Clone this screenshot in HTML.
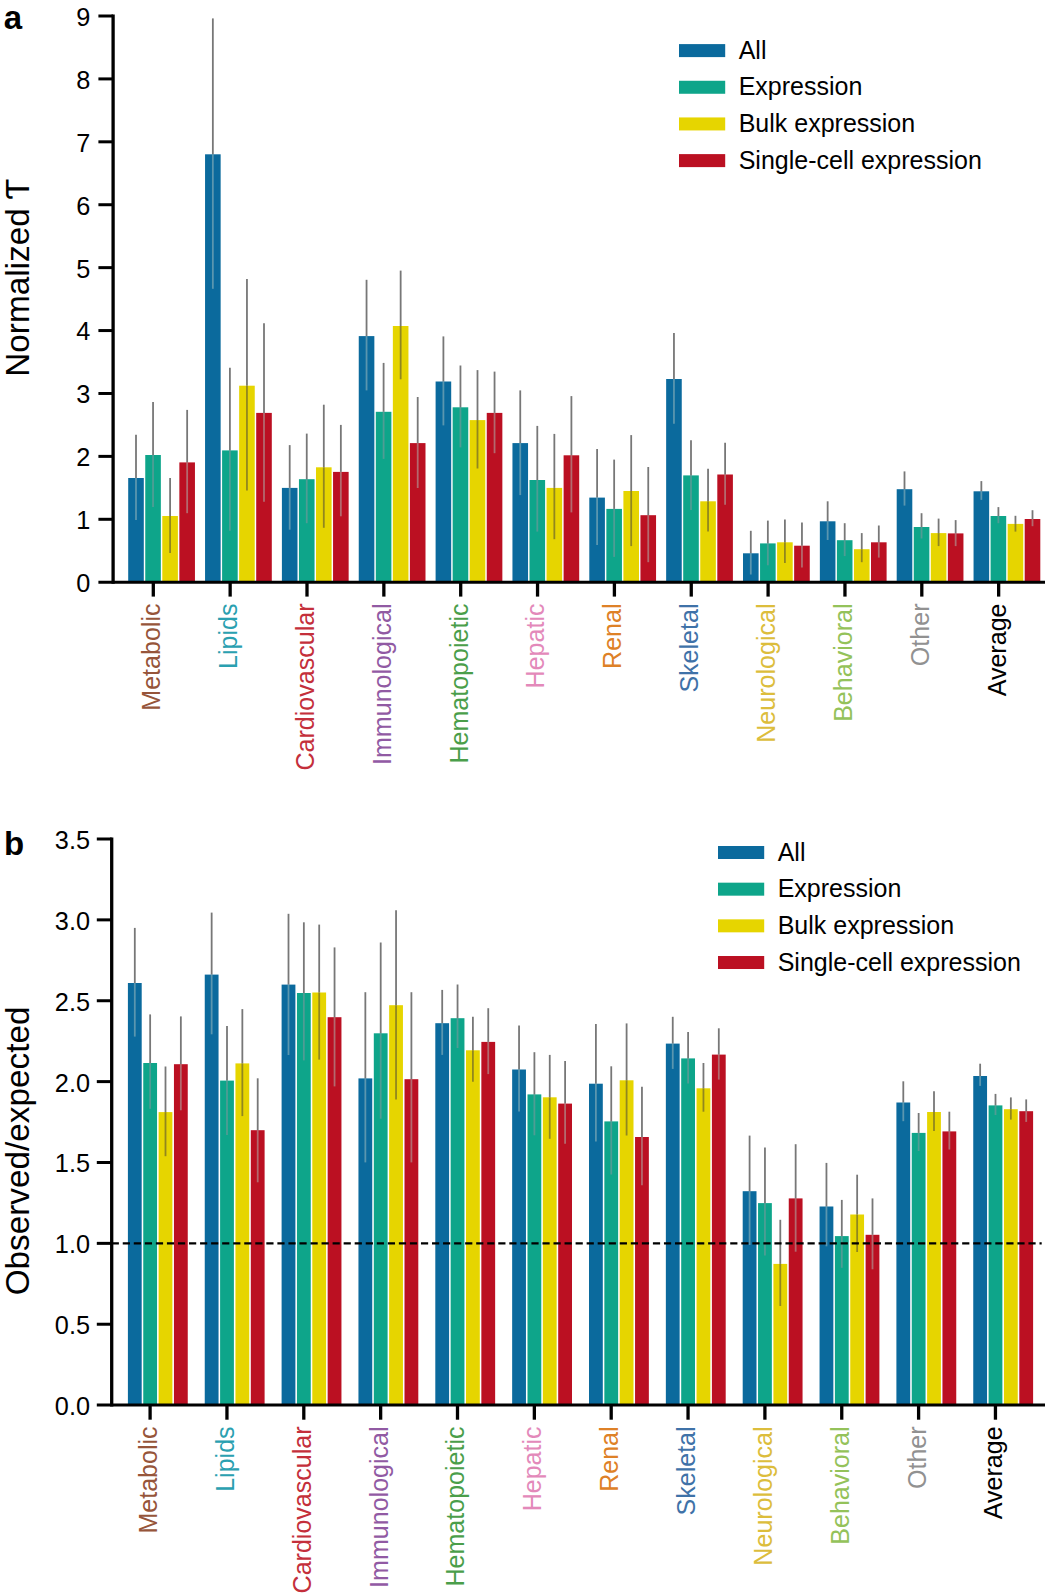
<!DOCTYPE html>
<html lang="en">
<head>
<meta charset="utf-8">
<title>Normalized enrichment by trait category</title>
<style>
html,body{margin:0;padding:0;background:#fff;}
body{width:1045px;height:1594px;overflow:hidden;}
svg{display:block;font-family:"Liberation Sans", Arial, Helvetica, sans-serif;}
</style>
</head>
<body>
<svg width="1045" height="1594" viewBox="0 0 1045 1594">
<rect x="0" y="0" width="1045" height="1594" fill="#fff"/>
<g class="panel-a">
<g class="bars">
<rect x="128.2" y="478" width="15.6" height="104.2" fill="#0b6a9d"/>
<rect x="145.25" y="455" width="15.6" height="127.2" fill="#0ea58a"/>
<rect x="162.3" y="516" width="15.6" height="66.2" fill="#e6d500"/>
<rect x="179.35" y="462.4" width="15.6" height="119.8" fill="#bb1022"/>
<rect x="205.05" y="154.3" width="15.6" height="427.9" fill="#0b6a9d"/>
<rect x="222.1" y="450.4" width="15.6" height="131.8" fill="#0ea58a"/>
<rect x="239.15" y="385.7" width="15.6" height="196.5" fill="#e6d500"/>
<rect x="256.2" y="412.9" width="15.6" height="169.3" fill="#bb1022"/>
<rect x="281.9" y="487.9" width="15.6" height="94.3" fill="#0b6a9d"/>
<rect x="298.95" y="479.2" width="15.6" height="103" fill="#0ea58a"/>
<rect x="316" y="467.3" width="15.6" height="114.9" fill="#e6d500"/>
<rect x="333.05" y="471.9" width="15.6" height="110.3" fill="#bb1022"/>
<rect x="358.75" y="336.1" width="15.6" height="246.1" fill="#0b6a9d"/>
<rect x="375.8" y="411.8" width="15.6" height="170.4" fill="#0ea58a"/>
<rect x="392.85" y="326" width="15.6" height="256.2" fill="#e6d500"/>
<rect x="409.9" y="443.1" width="15.6" height="139.1" fill="#bb1022"/>
<rect x="435.6" y="381.5" width="15.6" height="200.7" fill="#0b6a9d"/>
<rect x="452.65" y="407.3" width="15.6" height="174.9" fill="#0ea58a"/>
<rect x="469.7" y="420.1" width="15.6" height="162.1" fill="#e6d500"/>
<rect x="486.75" y="412.9" width="15.6" height="169.3" fill="#bb1022"/>
<rect x="512.45" y="443.1" width="15.6" height="139.1" fill="#0b6a9d"/>
<rect x="529.5" y="480" width="15.6" height="102.2" fill="#0ea58a"/>
<rect x="546.55" y="487.9" width="15.6" height="94.3" fill="#e6d500"/>
<rect x="563.6" y="455.3" width="15.6" height="126.9" fill="#bb1022"/>
<rect x="589.3" y="497.6" width="15.6" height="84.6" fill="#0b6a9d"/>
<rect x="606.35" y="508.9" width="15.6" height="73.3" fill="#0ea58a"/>
<rect x="623.4" y="491" width="15.6" height="91.2" fill="#e6d500"/>
<rect x="640.45" y="515.2" width="15.6" height="67" fill="#bb1022"/>
<rect x="666.15" y="379" width="15.6" height="203.2" fill="#0b6a9d"/>
<rect x="683.2" y="475.4" width="15.6" height="106.8" fill="#0ea58a"/>
<rect x="700.25" y="501.3" width="15.6" height="80.9" fill="#e6d500"/>
<rect x="717.3" y="474.5" width="15.6" height="107.7" fill="#bb1022"/>
<rect x="743" y="553.3" width="15.6" height="28.9" fill="#0b6a9d"/>
<rect x="760.05" y="543.4" width="15.6" height="38.8" fill="#0ea58a"/>
<rect x="777.1" y="542.3" width="15.6" height="39.9" fill="#e6d500"/>
<rect x="794.15" y="545.7" width="15.6" height="36.5" fill="#bb1022"/>
<rect x="819.85" y="521.3" width="15.6" height="60.9" fill="#0b6a9d"/>
<rect x="836.9" y="540.2" width="15.6" height="42" fill="#0ea58a"/>
<rect x="853.95" y="549.2" width="15.6" height="33" fill="#e6d500"/>
<rect x="871" y="542.3" width="15.6" height="39.9" fill="#bb1022"/>
<rect x="896.7" y="489.2" width="15.6" height="93" fill="#0b6a9d"/>
<rect x="913.75" y="527" width="15.6" height="55.2" fill="#0ea58a"/>
<rect x="930.8" y="533.1" width="15.6" height="49.1" fill="#e6d500"/>
<rect x="947.85" y="533.4" width="15.6" height="48.8" fill="#bb1022"/>
<rect x="973.55" y="491.3" width="15.6" height="90.9" fill="#0b6a9d"/>
<rect x="990.6" y="516" width="15.6" height="66.2" fill="#0ea58a"/>
<rect x="1007.65" y="523.9" width="15.6" height="58.3" fill="#e6d500"/>
<rect x="1024.7" y="519" width="15.6" height="63.2" fill="#bb1022"/>
</g>
<g class="errs" stroke-width="1.8" stroke-linecap="butt">
<line x1="136" y1="434.8" x2="136" y2="478" stroke="#777777"/>
<line x1="136" y1="478" x2="136" y2="520.1" stroke="#5a96af"/>
<line x1="153.05" y1="401.9" x2="153.05" y2="455" stroke="#777777"/>
<line x1="153.05" y1="455" x2="153.05" y2="507.1" stroke="#4f9d94"/>
<line x1="170.1" y1="478" x2="170.1" y2="516" stroke="#777777"/>
<line x1="170.1" y1="516" x2="170.1" y2="553" stroke="#91871e"/>
<line x1="187.15" y1="409.9" x2="187.15" y2="462.4" stroke="#777777"/>
<line x1="187.15" y1="462.4" x2="187.15" y2="513.2" stroke="#b4696e"/>
<line x1="212.85" y1="18.4" x2="212.85" y2="154.3" stroke="#777777"/>
<line x1="212.85" y1="154.3" x2="212.85" y2="288.8" stroke="#5a96af"/>
<line x1="229.9" y1="367.7" x2="229.9" y2="450.4" stroke="#777777"/>
<line x1="229.9" y1="450.4" x2="229.9" y2="530.8" stroke="#4f9d94"/>
<line x1="246.95" y1="278.9" x2="246.95" y2="385.7" stroke="#777777"/>
<line x1="246.95" y1="385.7" x2="246.95" y2="490.6" stroke="#91871e"/>
<line x1="264" y1="323.3" x2="264" y2="412.9" stroke="#777777"/>
<line x1="264" y1="412.9" x2="264" y2="501.7" stroke="#b4696e"/>
<line x1="289.7" y1="445.1" x2="289.7" y2="487.9" stroke="#777777"/>
<line x1="289.7" y1="487.9" x2="289.7" y2="529.7" stroke="#5a96af"/>
<line x1="306.75" y1="433.6" x2="306.75" y2="479.2" stroke="#777777"/>
<line x1="306.75" y1="479.2" x2="306.75" y2="523.2" stroke="#4f9d94"/>
<line x1="323.8" y1="404.7" x2="323.8" y2="467.3" stroke="#777777"/>
<line x1="323.8" y1="467.3" x2="323.8" y2="527.8" stroke="#91871e"/>
<line x1="340.85" y1="424.9" x2="340.85" y2="471.9" stroke="#777777"/>
<line x1="340.85" y1="471.9" x2="340.85" y2="516.3" stroke="#b4696e"/>
<line x1="366.55" y1="279.8" x2="366.55" y2="336.1" stroke="#777777"/>
<line x1="366.55" y1="336.1" x2="366.55" y2="390.4" stroke="#5a96af"/>
<line x1="383.6" y1="362.9" x2="383.6" y2="411.8" stroke="#777777"/>
<line x1="383.6" y1="411.8" x2="383.6" y2="458.9" stroke="#4f9d94"/>
<line x1="400.65" y1="270.6" x2="400.65" y2="326" stroke="#777777"/>
<line x1="400.65" y1="326" x2="400.65" y2="379.3" stroke="#91871e"/>
<line x1="417.7" y1="397" x2="417.7" y2="443.1" stroke="#777777"/>
<line x1="417.7" y1="443.1" x2="417.7" y2="488" stroke="#b4696e"/>
<line x1="443.4" y1="336.4" x2="443.4" y2="381.5" stroke="#777777"/>
<line x1="443.4" y1="381.5" x2="443.4" y2="425.4" stroke="#5a96af"/>
<line x1="460.45" y1="365.5" x2="460.45" y2="407.3" stroke="#777777"/>
<line x1="460.45" y1="407.3" x2="460.45" y2="447.4" stroke="#4f9d94"/>
<line x1="477.5" y1="370.1" x2="477.5" y2="420.1" stroke="#777777"/>
<line x1="477.5" y1="420.1" x2="477.5" y2="468.5" stroke="#91871e"/>
<line x1="494.55" y1="371.6" x2="494.55" y2="412.9" stroke="#777777"/>
<line x1="494.55" y1="412.9" x2="494.55" y2="453.2" stroke="#b4696e"/>
<line x1="520.25" y1="390.4" x2="520.25" y2="443.1" stroke="#777777"/>
<line x1="520.25" y1="443.1" x2="520.25" y2="495.1" stroke="#5a96af"/>
<line x1="537.3" y1="425.9" x2="537.3" y2="480" stroke="#777777"/>
<line x1="537.3" y1="480" x2="537.3" y2="531.6" stroke="#4f9d94"/>
<line x1="554.35" y1="433.9" x2="554.35" y2="487.9" stroke="#777777"/>
<line x1="554.35" y1="487.9" x2="554.35" y2="539.2" stroke="#91871e"/>
<line x1="571.4" y1="396.1" x2="571.4" y2="455.3" stroke="#777777"/>
<line x1="571.4" y1="455.3" x2="571.4" y2="512.4" stroke="#b4696e"/>
<line x1="597.1" y1="448.9" x2="597.1" y2="497.6" stroke="#777777"/>
<line x1="597.1" y1="497.6" x2="597.1" y2="545.1" stroke="#5a96af"/>
<line x1="614.15" y1="459.6" x2="614.15" y2="508.9" stroke="#777777"/>
<line x1="614.15" y1="508.9" x2="614.15" y2="556.9" stroke="#4f9d94"/>
<line x1="631.2" y1="435.1" x2="631.2" y2="491" stroke="#777777"/>
<line x1="631.2" y1="491" x2="631.2" y2="546.1" stroke="#91871e"/>
<line x1="648.25" y1="467" x2="648.25" y2="515.2" stroke="#777777"/>
<line x1="648.25" y1="515.2" x2="648.25" y2="562.2" stroke="#b4696e"/>
<line x1="673.95" y1="333.1" x2="673.95" y2="379" stroke="#777777"/>
<line x1="673.95" y1="379" x2="673.95" y2="423.7" stroke="#5a96af"/>
<line x1="691" y1="440.2" x2="691" y2="475.4" stroke="#777777"/>
<line x1="691" y1="475.4" x2="691" y2="510.1" stroke="#4f9d94"/>
<line x1="708.05" y1="468.8" x2="708.05" y2="501.3" stroke="#777777"/>
<line x1="708.05" y1="501.3" x2="708.05" y2="531.6" stroke="#91871e"/>
<line x1="725.1" y1="442.8" x2="725.1" y2="474.5" stroke="#777777"/>
<line x1="725.1" y1="474.5" x2="725.1" y2="504.8" stroke="#b4696e"/>
<line x1="750.8" y1="530.8" x2="750.8" y2="553.3" stroke="#777777"/>
<line x1="750.8" y1="553.3" x2="750.8" y2="574.5" stroke="#5a96af"/>
<line x1="767.85" y1="520.6" x2="767.85" y2="543.4" stroke="#777777"/>
<line x1="767.85" y1="543.4" x2="767.85" y2="565.3" stroke="#4f9d94"/>
<line x1="784.9" y1="519.6" x2="784.9" y2="542.3" stroke="#777777"/>
<line x1="784.9" y1="542.3" x2="784.9" y2="563" stroke="#91871e"/>
<line x1="801.95" y1="522.4" x2="801.95" y2="545.7" stroke="#777777"/>
<line x1="801.95" y1="545.7" x2="801.95" y2="567.6" stroke="#b4696e"/>
<line x1="827.65" y1="501.3" x2="827.65" y2="521.3" stroke="#777777"/>
<line x1="827.65" y1="521.3" x2="827.65" y2="540" stroke="#5a96af"/>
<line x1="844.7" y1="523.2" x2="844.7" y2="540.2" stroke="#777777"/>
<line x1="844.7" y1="540.2" x2="844.7" y2="556.1" stroke="#4f9d94"/>
<line x1="861.75" y1="533.1" x2="861.75" y2="549.2" stroke="#777777"/>
<line x1="861.75" y1="549.2" x2="861.75" y2="562.2" stroke="#91871e"/>
<line x1="878.8" y1="525.5" x2="878.8" y2="542.3" stroke="#777777"/>
<line x1="878.8" y1="542.3" x2="878.8" y2="557.6" stroke="#b4696e"/>
<line x1="904.5" y1="471.4" x2="904.5" y2="489.2" stroke="#777777"/>
<line x1="904.5" y1="489.2" x2="904.5" y2="505.6" stroke="#5a96af"/>
<line x1="921.55" y1="513.2" x2="921.55" y2="527" stroke="#777777"/>
<line x1="921.55" y1="527" x2="921.55" y2="538.5" stroke="#4f9d94"/>
<line x1="938.6" y1="518.6" x2="938.6" y2="533.1" stroke="#777777"/>
<line x1="938.6" y1="533.1" x2="938.6" y2="546.1" stroke="#91871e"/>
<line x1="955.65" y1="520.1" x2="955.65" y2="533.4" stroke="#777777"/>
<line x1="955.65" y1="533.4" x2="955.65" y2="546.1" stroke="#b4696e"/>
<line x1="981.35" y1="481.1" x2="981.35" y2="491.3" stroke="#777777"/>
<line x1="981.35" y1="491.3" x2="981.35" y2="499.9" stroke="#5a96af"/>
<line x1="998.4" y1="507.1" x2="998.4" y2="516" stroke="#777777"/>
<line x1="998.4" y1="516" x2="998.4" y2="523.2" stroke="#4f9d94"/>
<line x1="1015.45" y1="515.8" x2="1015.45" y2="523.9" stroke="#777777"/>
<line x1="1015.45" y1="523.9" x2="1015.45" y2="531.6" stroke="#91871e"/>
<line x1="1032.5" y1="510.2" x2="1032.5" y2="519" stroke="#777777"/>
<line x1="1032.5" y1="519" x2="1032.5" y2="526.2" stroke="#b4696e"/>
</g>
<g class="axes" stroke="#000" fill="none">
<line x1="113.1" y1="14.5" x2="113.1" y2="583.7" stroke-width="3.3"/>
<line x1="98.4" y1="582.2" x2="1045" y2="582.2" stroke-width="3"/>
<line x1="98.4" y1="519.29" x2="113.1" y2="519.29" stroke-width="3"/>
<line x1="98.4" y1="456.38" x2="113.1" y2="456.38" stroke-width="3"/>
<line x1="98.4" y1="393.47" x2="113.1" y2="393.47" stroke-width="3"/>
<line x1="98.4" y1="330.56" x2="113.1" y2="330.56" stroke-width="3"/>
<line x1="98.4" y1="267.64" x2="113.1" y2="267.64" stroke-width="3"/>
<line x1="98.4" y1="204.73" x2="113.1" y2="204.73" stroke-width="3"/>
<line x1="98.4" y1="141.82" x2="113.1" y2="141.82" stroke-width="3"/>
<line x1="98.4" y1="78.91" x2="113.1" y2="78.91" stroke-width="3"/>
<line x1="98.4" y1="16" x2="113.1" y2="16" stroke-width="3"/>
<line x1="153.3" y1="582.2" x2="153.3" y2="596.6" stroke-width="3.3"/>
<line x1="230.15" y1="582.2" x2="230.15" y2="596.6" stroke-width="3.3"/>
<line x1="307" y1="582.2" x2="307" y2="596.6" stroke-width="3.3"/>
<line x1="383.85" y1="582.2" x2="383.85" y2="596.6" stroke-width="3.3"/>
<line x1="460.7" y1="582.2" x2="460.7" y2="596.6" stroke-width="3.3"/>
<line x1="537.55" y1="582.2" x2="537.55" y2="596.6" stroke-width="3.3"/>
<line x1="614.4" y1="582.2" x2="614.4" y2="596.6" stroke-width="3.3"/>
<line x1="691.25" y1="582.2" x2="691.25" y2="596.6" stroke-width="3.3"/>
<line x1="768.1" y1="582.2" x2="768.1" y2="596.6" stroke-width="3.3"/>
<line x1="844.95" y1="582.2" x2="844.95" y2="596.6" stroke-width="3.3"/>
<line x1="921.8" y1="582.2" x2="921.8" y2="596.6" stroke-width="3.3"/>
<line x1="998.65" y1="582.2" x2="998.65" y2="596.6" stroke-width="3.3"/>
</g>
<g class="yticks" font-size="25.3" text-anchor="end" fill="#000">
<text x="90.4" y="592.1">0</text>
<text x="90.4" y="529.19">1</text>
<text x="90.4" y="466.28">2</text>
<text x="90.4" y="403.37">3</text>
<text x="90.4" y="340.46">4</text>
<text x="90.4" y="277.54">5</text>
<text x="90.4" y="214.63">6</text>
<text x="90.4" y="151.72">7</text>
<text x="90.4" y="88.81">8</text>
<text x="90.4" y="25.9">9</text>
</g>
<g class="xticks" font-size="25.05" text-anchor="end">
<text transform="translate(160.2 603.5) rotate(-90)" fill="#96553a">Metabolic</text>
<text transform="translate(237.05 603.5) rotate(-90)" fill="#2aa0b0">Lipids</text>
<text transform="translate(313.9 603.5) rotate(-90)" fill="#c42f3b">Cardiovascular</text>
<text transform="translate(390.75 603.5) rotate(-90)" fill="#915aa3">Immunological</text>
<text transform="translate(467.6 603.5) rotate(-90)" fill="#4a9e4a">Hematopoietic</text>
<text transform="translate(544.45 603.5) rotate(-90)" fill="#e389ba">Hepatic</text>
<text transform="translate(621.3 603.5) rotate(-90)" fill="#de8127">Renal</text>
<text transform="translate(698.15 603.5) rotate(-90)" fill="#3f72a8">Skeletal</text>
<text transform="translate(775 603.5) rotate(-90)" fill="#dcbd3c">Neurological</text>
<text transform="translate(851.85 603.5) rotate(-90)" fill="#94c25a">Behavioral</text>
<text transform="translate(928.7 603.5) rotate(-90)" fill="#919191">Other</text>
<text transform="translate(1005.55 603.5) rotate(-90)" fill="#000000">Average</text>
</g>
<text class="ylabel" transform="translate(28.8 376.7) rotate(-90)" font-size="33.3" text-anchor="start" fill="#000">Normalized Ƭ</text>
<text class="plabel" x="3.7" y="28.6" font-size="33" font-weight="bold" fill="#000">a</text>
<g class="legend" font-size="25" fill="#000">
<rect x="679" y="44.1" width="46.2" height="13" fill="#0b6a9d"/>
<text x="738.7" y="58.8">All</text>
<rect x="679" y="80.77" width="46.2" height="13" fill="#0ea58a"/>
<text x="738.7" y="95.47">Expression</text>
<rect x="679" y="117.44" width="46.2" height="13" fill="#e6d500"/>
<text x="738.7" y="132.14">Bulk expression</text>
<rect x="679" y="154.11" width="46.2" height="13" fill="#bb1022"/>
<text x="738.7" y="168.81">Single-cell expression</text>
</g>
</g>
<g class="panel-b">
<g class="bars">
<rect x="127.9" y="983" width="13.8" height="422.1" fill="#0b6a9d"/>
<rect x="143.25" y="1063" width="13.8" height="342.1" fill="#0ea58a"/>
<rect x="158.6" y="1112.1" width="13.8" height="293" fill="#e6d500"/>
<rect x="173.95" y="1064.2" width="13.8" height="340.9" fill="#bb1022"/>
<rect x="204.75" y="974.6" width="13.8" height="430.5" fill="#0b6a9d"/>
<rect x="220.1" y="1080.6" width="13.8" height="324.5" fill="#0ea58a"/>
<rect x="235.45" y="1063.4" width="13.8" height="341.7" fill="#e6d500"/>
<rect x="250.8" y="1130.2" width="13.8" height="274.9" fill="#bb1022"/>
<rect x="281.6" y="984.6" width="13.8" height="420.5" fill="#0b6a9d"/>
<rect x="296.95" y="993" width="13.8" height="412.1" fill="#0ea58a"/>
<rect x="312.3" y="992.5" width="13.8" height="412.6" fill="#e6d500"/>
<rect x="327.65" y="1017.2" width="13.8" height="387.9" fill="#bb1022"/>
<rect x="358.45" y="1078.4" width="13.8" height="326.7" fill="#0b6a9d"/>
<rect x="373.8" y="1033.3" width="13.8" height="371.8" fill="#0ea58a"/>
<rect x="389.15" y="1005.2" width="13.8" height="399.9" fill="#e6d500"/>
<rect x="404.5" y="1079.2" width="13.8" height="325.9" fill="#bb1022"/>
<rect x="435.3" y="1023.2" width="13.8" height="381.9" fill="#0b6a9d"/>
<rect x="450.65" y="1018.2" width="13.8" height="386.9" fill="#0ea58a"/>
<rect x="466" y="1050.3" width="13.8" height="354.8" fill="#e6d500"/>
<rect x="481.35" y="1041.9" width="13.8" height="363.2" fill="#bb1022"/>
<rect x="512.15" y="1069.5" width="13.8" height="335.6" fill="#0b6a9d"/>
<rect x="527.5" y="1094.4" width="13.8" height="310.7" fill="#0ea58a"/>
<rect x="542.85" y="1097.3" width="13.8" height="307.8" fill="#e6d500"/>
<rect x="558.2" y="1103.6" width="13.8" height="301.5" fill="#bb1022"/>
<rect x="589" y="1083.7" width="13.8" height="321.4" fill="#0b6a9d"/>
<rect x="604.35" y="1121.4" width="13.8" height="283.7" fill="#0ea58a"/>
<rect x="619.7" y="1080.3" width="13.8" height="324.8" fill="#e6d500"/>
<rect x="635.05" y="1137" width="13.8" height="268.1" fill="#bb1022"/>
<rect x="665.85" y="1043.6" width="13.8" height="361.5" fill="#0b6a9d"/>
<rect x="681.2" y="1058.4" width="13.8" height="346.7" fill="#0ea58a"/>
<rect x="696.55" y="1088.3" width="13.8" height="316.8" fill="#e6d500"/>
<rect x="711.9" y="1054.6" width="13.8" height="350.5" fill="#bb1022"/>
<rect x="742.7" y="1191.2" width="13.8" height="213.9" fill="#0b6a9d"/>
<rect x="758.05" y="1203.1" width="13.8" height="202" fill="#0ea58a"/>
<rect x="773.4" y="1263.9" width="13.8" height="141.2" fill="#e6d500"/>
<rect x="788.75" y="1198.4" width="13.8" height="206.7" fill="#bb1022"/>
<rect x="819.55" y="1206.5" width="13.8" height="198.6" fill="#0b6a9d"/>
<rect x="834.9" y="1236.1" width="13.8" height="169" fill="#0ea58a"/>
<rect x="850.25" y="1214.5" width="13.8" height="190.6" fill="#e6d500"/>
<rect x="865.6" y="1234.8" width="13.8" height="170.3" fill="#bb1022"/>
<rect x="896.4" y="1102.5" width="13.8" height="302.6" fill="#0b6a9d"/>
<rect x="911.75" y="1132.9" width="13.8" height="272.2" fill="#0ea58a"/>
<rect x="927.1" y="1112" width="13.8" height="293.1" fill="#e6d500"/>
<rect x="942.45" y="1131.4" width="13.8" height="273.7" fill="#bb1022"/>
<rect x="973.25" y="1076" width="13.8" height="329.1" fill="#0b6a9d"/>
<rect x="988.6" y="1105.4" width="13.8" height="299.7" fill="#0ea58a"/>
<rect x="1003.95" y="1109.2" width="13.8" height="295.9" fill="#e6d500"/>
<rect x="1019.3" y="1111.2" width="13.8" height="293.9" fill="#bb1022"/>
</g>
<g class="errs" stroke-width="1.8" stroke-linecap="butt">
<line x1="134.8" y1="927.9" x2="134.8" y2="983" stroke="#777777"/>
<line x1="134.8" y1="983" x2="134.8" y2="1036.6" stroke="#5a96af"/>
<line x1="150.15" y1="1014.4" x2="150.15" y2="1063" stroke="#777777"/>
<line x1="150.15" y1="1063" x2="150.15" y2="1108.8" stroke="#4f9d94"/>
<line x1="165.5" y1="1066.5" x2="165.5" y2="1112.1" stroke="#777777"/>
<line x1="165.5" y1="1112.1" x2="165.5" y2="1156.2" stroke="#91871e"/>
<line x1="180.85" y1="1016.4" x2="180.85" y2="1064.2" stroke="#777777"/>
<line x1="180.85" y1="1064.2" x2="180.85" y2="1110.3" stroke="#b4696e"/>
<line x1="211.65" y1="912.6" x2="211.65" y2="974.6" stroke="#777777"/>
<line x1="211.65" y1="974.6" x2="211.65" y2="1034.3" stroke="#5a96af"/>
<line x1="227" y1="1025.9" x2="227" y2="1080.6" stroke="#777777"/>
<line x1="227" y1="1080.6" x2="227" y2="1135.1" stroke="#4f9d94"/>
<line x1="242.35" y1="1009.1" x2="242.35" y2="1063.4" stroke="#777777"/>
<line x1="242.35" y1="1063.4" x2="242.35" y2="1116.1" stroke="#91871e"/>
<line x1="257.7" y1="1078.3" x2="257.7" y2="1130.2" stroke="#777777"/>
<line x1="257.7" y1="1130.2" x2="257.7" y2="1182.3" stroke="#b4696e"/>
<line x1="288.5" y1="913.8" x2="288.5" y2="984.6" stroke="#777777"/>
<line x1="288.5" y1="984.6" x2="288.5" y2="1055" stroke="#5a96af"/>
<line x1="303.85" y1="922.3" x2="303.85" y2="993" stroke="#777777"/>
<line x1="303.85" y1="993" x2="303.85" y2="1060.4" stroke="#4f9d94"/>
<line x1="319.2" y1="924.6" x2="319.2" y2="992.5" stroke="#777777"/>
<line x1="319.2" y1="992.5" x2="319.2" y2="1059.6" stroke="#91871e"/>
<line x1="334.55" y1="947.4" x2="334.55" y2="1017.2" stroke="#777777"/>
<line x1="334.55" y1="1017.2" x2="334.55" y2="1086.4" stroke="#b4696e"/>
<line x1="365.35" y1="992.2" x2="365.35" y2="1078.4" stroke="#777777"/>
<line x1="365.35" y1="1078.4" x2="365.35" y2="1162.4" stroke="#5a96af"/>
<line x1="380.7" y1="942.5" x2="380.7" y2="1033.3" stroke="#777777"/>
<line x1="380.7" y1="1033.3" x2="380.7" y2="1118.7" stroke="#4f9d94"/>
<line x1="396.05" y1="910.3" x2="396.05" y2="1005.2" stroke="#777777"/>
<line x1="396.05" y1="1005.2" x2="396.05" y2="1099.4" stroke="#91871e"/>
<line x1="411.4" y1="992.2" x2="411.4" y2="1079.2" stroke="#777777"/>
<line x1="411.4" y1="1079.2" x2="411.4" y2="1162.4" stroke="#b4696e"/>
<line x1="442.2" y1="989.9" x2="442.2" y2="1023.2" stroke="#777777"/>
<line x1="442.2" y1="1023.2" x2="442.2" y2="1054.9" stroke="#5a96af"/>
<line x1="457.55" y1="984.5" x2="457.55" y2="1018.2" stroke="#777777"/>
<line x1="457.55" y1="1018.2" x2="457.55" y2="1048" stroke="#4f9d94"/>
<line x1="472.9" y1="1016.7" x2="472.9" y2="1050.3" stroke="#777777"/>
<line x1="472.9" y1="1050.3" x2="472.9" y2="1081.7" stroke="#91871e"/>
<line x1="488.25" y1="1008.2" x2="488.25" y2="1041.9" stroke="#777777"/>
<line x1="488.25" y1="1041.9" x2="488.25" y2="1074.1" stroke="#b4696e"/>
<line x1="519.05" y1="1025.5" x2="519.05" y2="1069.5" stroke="#777777"/>
<line x1="519.05" y1="1069.5" x2="519.05" y2="1111.6" stroke="#5a96af"/>
<line x1="534.4" y1="1052.2" x2="534.4" y2="1094.4" stroke="#777777"/>
<line x1="534.4" y1="1094.4" x2="534.4" y2="1135.3" stroke="#4f9d94"/>
<line x1="549.75" y1="1054.9" x2="549.75" y2="1097.3" stroke="#777777"/>
<line x1="549.75" y1="1097.3" x2="549.75" y2="1138.8" stroke="#91871e"/>
<line x1="565.1" y1="1061.1" x2="565.1" y2="1103.6" stroke="#777777"/>
<line x1="565.1" y1="1103.6" x2="565.1" y2="1143.7" stroke="#b4696e"/>
<line x1="595.9" y1="1024" x2="595.9" y2="1083.7" stroke="#777777"/>
<line x1="595.9" y1="1083.7" x2="595.9" y2="1141.6" stroke="#5a96af"/>
<line x1="611.25" y1="1066.3" x2="611.25" y2="1121.4" stroke="#777777"/>
<line x1="611.25" y1="1121.4" x2="611.25" y2="1174.5" stroke="#4f9d94"/>
<line x1="626.6" y1="1023.4" x2="626.6" y2="1080.3" stroke="#777777"/>
<line x1="626.6" y1="1080.3" x2="626.6" y2="1135.5" stroke="#91871e"/>
<line x1="641.95" y1="1086.8" x2="641.95" y2="1137" stroke="#777777"/>
<line x1="641.95" y1="1137" x2="641.95" y2="1185.2" stroke="#b4696e"/>
<line x1="672.75" y1="1016.8" x2="672.75" y2="1043.6" stroke="#777777"/>
<line x1="672.75" y1="1043.6" x2="672.75" y2="1068.9" stroke="#5a96af"/>
<line x1="688.1" y1="1032.1" x2="688.1" y2="1058.4" stroke="#777777"/>
<line x1="688.1" y1="1058.4" x2="688.1" y2="1083.4" stroke="#4f9d94"/>
<line x1="703.45" y1="1063" x2="703.45" y2="1088.3" stroke="#777777"/>
<line x1="703.45" y1="1088.3" x2="703.45" y2="1111.7" stroke="#91871e"/>
<line x1="718.8" y1="1028.3" x2="718.8" y2="1054.6" stroke="#777777"/>
<line x1="718.8" y1="1054.6" x2="718.8" y2="1079.6" stroke="#b4696e"/>
<line x1="749.6" y1="1135.6" x2="749.6" y2="1191.2" stroke="#777777"/>
<line x1="749.6" y1="1191.2" x2="749.6" y2="1245" stroke="#5a96af"/>
<line x1="764.95" y1="1147.6" x2="764.95" y2="1203.1" stroke="#777777"/>
<line x1="764.95" y1="1203.1" x2="764.95" y2="1255.5" stroke="#4f9d94"/>
<line x1="780.3" y1="1219.8" x2="780.3" y2="1263.9" stroke="#777777"/>
<line x1="780.3" y1="1263.9" x2="780.3" y2="1306" stroke="#91871e"/>
<line x1="795.65" y1="1144.2" x2="795.65" y2="1198.4" stroke="#777777"/>
<line x1="795.65" y1="1198.4" x2="795.65" y2="1251.7" stroke="#b4696e"/>
<line x1="826.45" y1="1162.9" x2="826.45" y2="1206.5" stroke="#777777"/>
<line x1="826.45" y1="1206.5" x2="826.45" y2="1246.3" stroke="#5a96af"/>
<line x1="841.8" y1="1199.9" x2="841.8" y2="1236.1" stroke="#777777"/>
<line x1="841.8" y1="1236.1" x2="841.8" y2="1267.8" stroke="#4f9d94"/>
<line x1="857.15" y1="1174.7" x2="857.15" y2="1214.5" stroke="#777777"/>
<line x1="857.15" y1="1214.5" x2="857.15" y2="1252" stroke="#91871e"/>
<line x1="872.5" y1="1198.4" x2="872.5" y2="1234.8" stroke="#777777"/>
<line x1="872.5" y1="1234.8" x2="872.5" y2="1269.3" stroke="#b4696e"/>
<line x1="903.3" y1="1081.3" x2="903.3" y2="1102.5" stroke="#777777"/>
<line x1="903.3" y1="1102.5" x2="903.3" y2="1121.2" stroke="#5a96af"/>
<line x1="918.65" y1="1113" x2="918.65" y2="1132.9" stroke="#777777"/>
<line x1="918.65" y1="1132.9" x2="918.65" y2="1151" stroke="#4f9d94"/>
<line x1="934" y1="1091.3" x2="934" y2="1112" stroke="#777777"/>
<line x1="934" y1="1112" x2="934" y2="1131.1" stroke="#91871e"/>
<line x1="949.35" y1="1111.7" x2="949.35" y2="1131.4" stroke="#777777"/>
<line x1="949.35" y1="1131.4" x2="949.35" y2="1149.5" stroke="#b4696e"/>
<line x1="980.15" y1="1063.7" x2="980.15" y2="1076" stroke="#777777"/>
<line x1="980.15" y1="1076" x2="980.15" y2="1085.9" stroke="#5a96af"/>
<line x1="995.5" y1="1093.9" x2="995.5" y2="1105.4" stroke="#777777"/>
<line x1="995.5" y1="1105.4" x2="995.5" y2="1115" stroke="#4f9d94"/>
<line x1="1010.85" y1="1097.4" x2="1010.85" y2="1109.2" stroke="#777777"/>
<line x1="1010.85" y1="1109.2" x2="1010.85" y2="1119.6" stroke="#91871e"/>
<line x1="1026.2" y1="1099.4" x2="1026.2" y2="1111.2" stroke="#777777"/>
<line x1="1026.2" y1="1111.2" x2="1026.2" y2="1121.9" stroke="#b4696e"/>
</g>
<line x1="111.7" y1="1243.36" x2="1041.7" y2="1243.36" stroke="#000" stroke-width="2.2" stroke-dasharray="7.2 3.845" stroke-dashoffset="0"/>
<g class="axes" stroke="#000" fill="none">
<line x1="111.7" y1="837.5" x2="111.7" y2="1406.6" stroke-width="3.3"/>
<line x1="96.8" y1="1405.1" x2="1045" y2="1405.1" stroke-width="3"/>
<line x1="96.8" y1="1324.23" x2="111.7" y2="1324.23" stroke-width="3"/>
<line x1="96.8" y1="1243.36" x2="111.7" y2="1243.36" stroke-width="3"/>
<line x1="96.8" y1="1162.49" x2="111.7" y2="1162.49" stroke-width="3"/>
<line x1="96.8" y1="1081.61" x2="111.7" y2="1081.61" stroke-width="3"/>
<line x1="96.8" y1="1000.74" x2="111.7" y2="1000.74" stroke-width="3"/>
<line x1="96.8" y1="919.87" x2="111.7" y2="919.87" stroke-width="3"/>
<line x1="96.8" y1="839" x2="111.7" y2="839" stroke-width="3"/>
<line x1="150.1" y1="1405.1" x2="150.1" y2="1419.7" stroke-width="3.3"/>
<line x1="226.95" y1="1405.1" x2="226.95" y2="1419.7" stroke-width="3.3"/>
<line x1="303.8" y1="1405.1" x2="303.8" y2="1419.7" stroke-width="3.3"/>
<line x1="380.65" y1="1405.1" x2="380.65" y2="1419.7" stroke-width="3.3"/>
<line x1="457.5" y1="1405.1" x2="457.5" y2="1419.7" stroke-width="3.3"/>
<line x1="534.35" y1="1405.1" x2="534.35" y2="1419.7" stroke-width="3.3"/>
<line x1="611.2" y1="1405.1" x2="611.2" y2="1419.7" stroke-width="3.3"/>
<line x1="688.05" y1="1405.1" x2="688.05" y2="1419.7" stroke-width="3.3"/>
<line x1="764.9" y1="1405.1" x2="764.9" y2="1419.7" stroke-width="3.3"/>
<line x1="841.75" y1="1405.1" x2="841.75" y2="1419.7" stroke-width="3.3"/>
<line x1="918.6" y1="1405.1" x2="918.6" y2="1419.7" stroke-width="3.3"/>
<line x1="995.45" y1="1405.1" x2="995.45" y2="1419.7" stroke-width="3.3"/>
</g>
<g class="yticks" font-size="25.3" text-anchor="end" fill="#000">
<text x="90" y="1415">0.0</text>
<text x="90" y="1334.13">0.5</text>
<text x="90" y="1253.26">1.0</text>
<text x="90" y="1172.39">1.5</text>
<text x="90" y="1091.51">2.0</text>
<text x="90" y="1010.64">2.5</text>
<text x="90" y="929.77">3.0</text>
<text x="90" y="848.9">3.5</text>
</g>
<g class="xticks" font-size="25.05" text-anchor="end">
<text transform="translate(157 1426.4) rotate(-90)" fill="#96553a">Metabolic</text>
<text transform="translate(233.85 1426.4) rotate(-90)" fill="#2aa0b0">Lipids</text>
<text transform="translate(310.7 1426.4) rotate(-90)" fill="#c42f3b">Cardiovascular</text>
<text transform="translate(387.55 1426.4) rotate(-90)" fill="#915aa3">Immunological</text>
<text transform="translate(464.4 1426.4) rotate(-90)" fill="#4a9e4a">Hematopoietic</text>
<text transform="translate(541.25 1426.4) rotate(-90)" fill="#e389ba">Hepatic</text>
<text transform="translate(618.1 1426.4) rotate(-90)" fill="#de8127">Renal</text>
<text transform="translate(694.95 1426.4) rotate(-90)" fill="#3f72a8">Skeletal</text>
<text transform="translate(771.8 1426.4) rotate(-90)" fill="#dcbd3c">Neurological</text>
<text transform="translate(848.65 1426.4) rotate(-90)" fill="#94c25a">Behavioral</text>
<text transform="translate(925.5 1426.4) rotate(-90)" fill="#919191">Other</text>
<text transform="translate(1002.35 1426.4) rotate(-90)" fill="#000000">Average</text>
</g>
<text class="ylabel" transform="translate(28.8 1295.3) rotate(-90)" font-size="33.3" text-anchor="start" fill="#000">Observed/expected</text>
<text class="plabel" x="3.9" y="855" font-size="33" font-weight="bold" fill="#000">b</text>
<g class="legend" font-size="25" fill="#000">
<rect x="718" y="846" width="46.2" height="13" fill="#0b6a9d"/>
<text x="777.7" y="860.7">All</text>
<rect x="718" y="882.67" width="46.2" height="13" fill="#0ea58a"/>
<text x="777.7" y="897.37">Expression</text>
<rect x="718" y="919.34" width="46.2" height="13" fill="#e6d500"/>
<text x="777.7" y="934.04">Bulk expression</text>
<rect x="718" y="956.01" width="46.2" height="13" fill="#bb1022"/>
<text x="777.7" y="970.71">Single-cell expression</text>
</g>
</g>
</svg>
</body>
</html>
